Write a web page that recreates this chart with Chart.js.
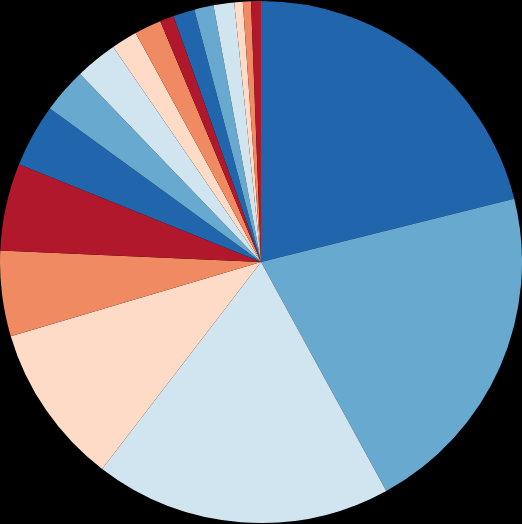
<!DOCTYPE html>
<html>
<head>
<meta charset="utf-8">
<script src="https://cdn.jsdelivr.net/npm/chart.js@4/dist/chart.umd.min.js"></script>
<style>
  html, body { margin: 0; padding: 0; background: #000; }
  #wrap { width: 522px; height: 524px; }
</style>
</head>
<body>
<div id="wrap"><canvas id="myChart" width="522" height="524"></canvas></div>
<script>
// slice labels (no text shown on the chart)
const categories = ['A', 'B', 'C', 'D', 'E', 'F', 'G', 'H', 'I', 'J', 'K', 'L', 'M', 'N', 'O', 'P', 'Q', 'R'];

// slice sizes (degrees of the circle)
const values = [76, 75.3, 66.2, 36, 19, 19.5, 14, 10.1, 9.4, 5.8, 6, 3.1, 4.8, 4.3, 4.6, 1.9, 1.8, 2.2];

// RdBu colours, repeating
const palette = ['#2166ac', '#67a9cf', '#d1e5f0', '#fddbc7', '#ef8a62', '#b2182b'];
const colors = values.map((v, i) => palette[i % palette.length]);

const ctx = document.getElementById('myChart').getContext('2d');
const myChart = new Chart(ctx, {
    type: 'pie',
    data: {
        labels: categories,
        datasets: [{
            data: values,
            backgroundColor: colors,
            borderWidth: 0
        }]
    },
    options: {
        responsive: false,
        animation: false,
        layout: { padding: 0 },
        plugins: {
            legend: { display: false },
            tooltip: { enabled: false }
        }
    }
});
</script>
</body>
</html>
